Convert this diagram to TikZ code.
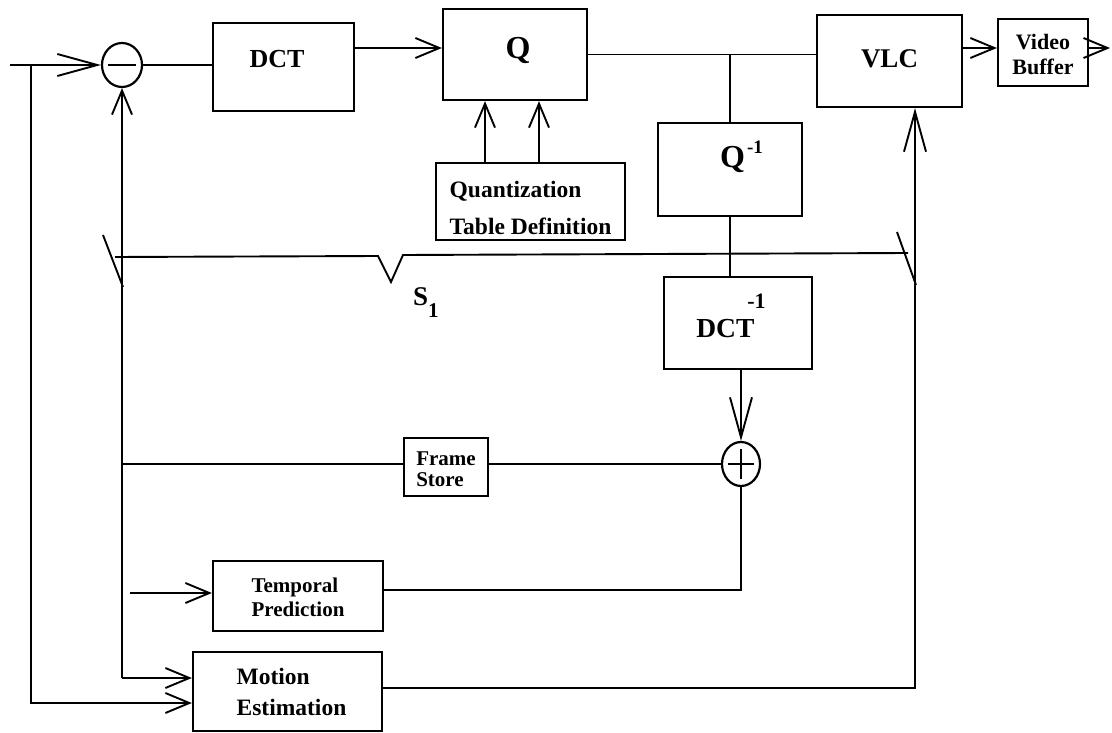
\documentclass[tikz,border=0pt]{standalone}
\usepackage{fontspec}
\setmainfont{Liberation Serif}
\usetikzlibrary{arrows.meta,shapes.geometric,calc}
\begin{document}
\begin{tikzpicture}[x=1pt,y=-1pt,
  box/.style={draw,line width=2.3pt,rectangle,inner sep=0pt},
  conn/.style={line width=1.9pt},
  sarr/.style={conn,-{Straight Barb[length=24pt,width=20pt]}},
  larr/.style={conn,-{Straight Barb[length=40pt,width=22pt]}},
  sumj/.style={draw,ellipse,line width=2.2pt,minimum width=40pt,minimum height=44pt,inner sep=0pt}
]
\fill[white] (0,0) rectangle (1112,733);
\useasboundingbox (0,0) rectangle (1112,733);

% blocks
\node[box,minimum width=141pt,minimum height=88pt,text height=18pt,text depth=16pt,
  font=\fontsize{26}{28}\selectfont\bfseries] (DCT) at (283.5,67) {DCT\hspace*{13pt}};
\node[box,minimum width=144pt,minimum height=91pt,text height=21pt,text depth=12pt,
  font=\fontsize{32}{34}\selectfont\bfseries] (Q) at (515,54.5) {\hspace*{6pt}Q};
\node[box,minimum width=189pt,minimum height=77pt,align=left,
  font=\fontsize{23.5}{37}\selectfont\bfseries] (QT) at (530.5,201.5)
  {\rule{0pt}{29pt}Quantization\\Table Definition};
\node[box,minimum width=144pt,minimum height=93pt,text height=26pt,text depth=29pt,
  font=\fontsize{32}{34}\selectfont\bfseries] (Qinv) at (730,169.5)
  {\hspace*{23pt}Q\hspace{2pt}\raisebox{14pt}{\fontsize{19}{19}\selectfont -1}};
\node[box,minimum width=148pt,minimum height=92pt,text height=44pt,text depth=16pt,
  font=\fontsize{27.5}{30}\selectfont\bfseries] (DCTinv) at (738,323)
  {DCT\hspace{-7pt}\raisebox{29pt}{\fontsize{22}{22}\selectfont -1}\hspace*{14pt}};
\node[box,minimum width=145pt,minimum height=92pt,text height=18pt,text depth=4pt,
  font=\fontsize{27}{29}\selectfont\bfseries] (VLC) at (889.5,61) {VLC};
\node[box,minimum width=90pt,minimum height=67pt,align=center,
  font=\fontsize{22}{25}\selectfont\bfseries] (VB) at (1043,52.5) {\rule{0pt}{19pt}Video\\Buffer};
\node[box,minimum width=84pt,minimum height=58pt,align=left,
  font=\fontsize{21}{21}\selectfont\bfseries] (FS) at (446,467) {\rule{0pt}{18pt}Frame\\Store};
\node[box,minimum width=170pt,minimum height=70pt,align=left,
  font=\fontsize{21}{24}\selectfont\bfseries] (TP) at (298,596) {\rule{0pt}{17pt}Temporal\\Prediction};
\node[box,minimum width=189pt,minimum height=79pt,align=left,
  font=\fontsize{23.5}{31}\selectfont\bfseries] (ME) at (287.5,691.5) {\hspace*{8pt}Motion\\\hspace*{8pt}Estimation};

% summing junctions
\node[sumj] (sub) at (122,65) {};
\node[sumj,minimum width=38pt] (add) at (741,464) {};
\draw[conn] ([xshift=-14pt]sub.center) -- ([xshift=14pt]sub.center);
\draw[conn] ([xshift=-13pt]add.center) -- ([xshift=13pt]add.center);
\draw[conn] ([yshift=-15pt]add.center) -- ([yshift=15pt]add.center);

% switch label
\node[anchor=base west,inner sep=0pt,font=\fontsize{27}{28}\selectfont\bfseries] (S1) at (413,305)
  {S\raisebox{-12pt}{\fontsize{21}{21}\selectfont 1}};

% coordinates
\coordinate (in) at (10,65);
\coordinate (b1) at (31,65);
\coordinate (me1) at ([yshift=13.5pt]ME.west);
\coordinate (me2) at ([yshift=-11.5pt]ME.west);
\coordinate (iv) at (sub.south |- me1);
\coordinate (tp1) at ([yshift=3pt]TP.west);
\coordinate (tps) at ($(iv |- tp1)+(8,0)$);
\coordinate (fsL) at (iv |- add.west);
\coordinate (d1) at ([yshift=19pt]DCT.east);
\coordinate (j1) at (Qinv.north |- Q.east);
\coordinate (qt1) at ([xshift=-45.5pt]QT.north);
\coordinate (qt2) at ([xshift=8.5pt]QT.north);
\coordinate (v1) at ([yshift=13pt]VLC.east);
\coordinate (out) at (1110,48);
\coordinate (me3) at ([yshift=3.5pt]ME.east);
\coordinate (vlcb) at ([xshift=25.5pt]VLC.south);

% connectors
\draw[larr] (in) -- (sub.west);
\draw[sarr] (b1) |- (me2);
\draw[sarr] (iv) -- (me1);
\draw[sarr] (iv) -- (sub.south);
\draw[conn] (sub.east) -- (sub.east -| DCT.west);
\draw[sarr] (d1) -- (d1 -| Q.west);
\draw[conn] (Q.east) -- (Q.east -| VLC.west);
\draw[conn] (j1) -- (Qinv.north);
\draw[sarr] (qt1) -- (qt1 |- Q.south);
\draw[sarr] (qt2) -- (qt2 |- Q.south);
\draw[conn] (Qinv.south) -- (Qinv.south |- DCTinv.north);
\draw[larr] (DCTinv.south -| add.north) -- (add.north);
\draw[conn] (fsL) -- (fsL -| FS.west);
\draw[conn] (FS.east |- add.west) -- (add.west);
\draw[conn] (add.south) |- ([yshift=6pt]TP.east);
\draw[sarr] (tps) -- (tp1);
\draw[larr] (me3) -| (vlcb);
\draw[sarr] (v1) -- (v1 -| VB.west);
\draw[sarr] (out -| VB.east) -- (out);

% switch S1
\draw[conn] (103,235) -- (123,287);
\draw[conn] (115,257) -- (378,256) -- (391,282) -- (403,255) -- (908,253);
\draw[conn] (897,232) -- (916,285);
\end{tikzpicture}
\end{document}
